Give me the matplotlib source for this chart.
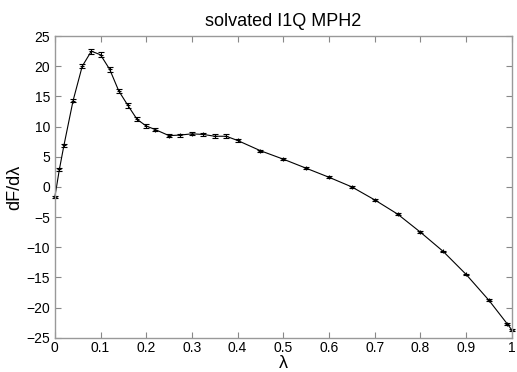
import matplotlib.pyplot as plt

# lambda windows and dF/dlambda values
lam = [0.0, 0.01, 0.02, 0.04, 0.06, 0.08, 0.10, 0.12, 0.14, 0.16, 0.18,
       0.20, 0.22, 0.25, 0.275, 0.30, 0.325, 0.35, 0.375, 0.40, 0.45,
       0.50, 0.55, 0.60, 0.65, 0.70, 0.75, 0.80, 0.85, 0.90, 0.95,
       0.99, 1.0]
dfdl = [-1.7, 2.9, 6.9, 14.3, 20.0, 22.5, 21.9, 19.5, 15.9, 13.5, 11.2,
        10.1, 9.5, 8.5, 8.6, 8.8, 8.7, 8.4, 8.4, 7.7, 6.0,
        4.6, 3.1, 1.6, 0.0, -2.15, -4.5, -7.5, -10.7, -14.5, -18.8,
        -22.7, -23.7]
err = [0.2, 0.2, 0.25, 0.3, 0.35, 0.4, 0.4, 0.45, 0.35, 0.4, 0.35,
       0.3, 0.3, 0.3, 0.25, 0.25, 0.25, 0.3, 0.3, 0.25, 0.2,
       0.15, 0.15, 0.15, 0.15, 0.15, 0.15, 0.15, 0.15, 0.15, 0.15,
       0.15, 0.15]

plt.rcParams['font.family'] = ['Liberation Sans', 'DejaVu Sans']

fig = plt.figure(figsize=(5.17, 3.72), dpi=100)
ax = fig.add_axes([0.106, 0.092, 0.884, 0.811])

ax.errorbar(lam, dfdl, yerr=err, color='black', lw=0.8, elinewidth=0.7,
            capsize=2, capthick=0.7, marker='+', ms=3, mew=0.8,
            clip_on=False)

ax.set_xlim(0, 1)
ax.set_ylim(-25, 25)
ax.set_xticks([i / 10 for i in range(11)])
ax.set_xticklabels(['0', '0.1', '0.2', '0.3', '0.4', '0.5', '0.6', '0.7',
                    '0.8', '0.9', '1'])
ax.set_yticks(range(-25, 26, 5))

ax.tick_params(direction='in', top=True, right=True, length=4,
               width=0.8, color='#888888', labelsize=10)
ax.tick_params(axis='x', pad=2)
for s in ax.spines.values():
    s.set_color('#999999')
    s.set_linewidth(1.0)

ax.set_title('solvated I1Q MPH2', fontsize=13, pad=7)
ax.set_xlabel('λ', fontsize=13, labelpad=0)
ax.set_ylabel('dF/dλ', fontsize=13, labelpad=2)

fig.savefig('out.png', dpi=100)
